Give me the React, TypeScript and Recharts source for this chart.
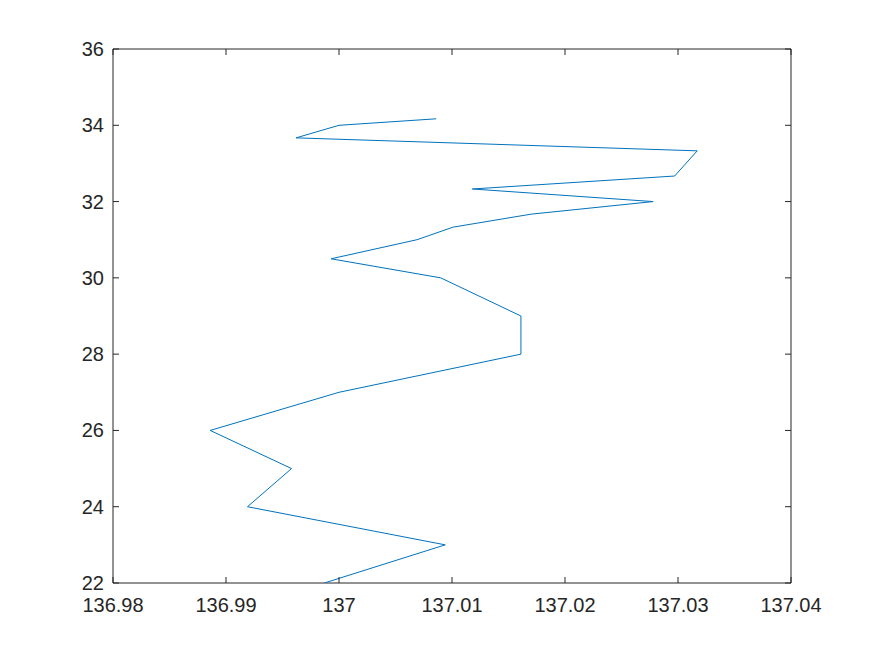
import React from 'react';
import { ScatterChart, Scatter, XAxis, YAxis } from 'recharts';

const depths = [22, 23, 24, 25, 26, 27, 28, 29, 30, 30.5, 31, 31.33, 31.67, 32, 32.33, 32.67, 33.33, 33.67, 34, 34.17];
const longitudes = [136.9987, 137.0094, 136.9919, 136.9958, 136.9886, 137.0, 137.0161, 137.0161, 137.009, 136.9993, 137.0069, 137.0101, 137.017, 137.0278, 137.0118, 137.0297, 137.0317, 136.9962, 137.0, 137.0086];
const xTicks = [136.98, 136.99, 137, 137.01, 137.02, 137.03, 137.04];
const yTicks = [22, 24, 26, 28, 30, 32, 34, 36];

const data = depths.map((d, i) => ({ x: longitudes[i], y: d }));

const AXIS = '#262626';
const FONT = '"Liberation Sans", Arial, Helvetica, sans-serif';
const TINY = 0.001;

const BottomTick = (props: any) => {
  const { x, y, payload } = props;
  return (
    <g>
      <line x1={x} x2={x} y1={y} y2={y - 6} stroke={AXIS} strokeWidth={1} />
      <text x={x} y={y + 29} textAnchor="middle" fill={AXIS} fontSize={20} fontFamily={FONT}>
        {String(payload.value)}
      </text>
    </g>
  );
};

const LeftTick = (props: any) => {
  const { x, y, payload } = props;
  return (
    <g>
      <line x1={x} x2={x + 6} y1={y} y2={y} stroke={AXIS} strokeWidth={1} />
      <text x={x - 9} y={y + 7} textAnchor="end" fill={AXIS} fontSize={20} fontFamily={FONT}>
        {String(payload.value)}
      </text>
    </g>
  );
};

const TopTick = (props: any) => {
  const { x, y } = props;
  return <line x1={x} x2={x} y1={y} y2={y + 6} stroke={AXIS} strokeWidth={1} />;
};

const RightTick = (props: any) => {
  const { x, y } = props;
  return <line x1={x} x2={x - 6} y1={y} y2={y} stroke={AXIS} strokeWidth={1} />;
};

const NoShape = () => <g />;

export default function App() {
  return (
    <div style={{ position: 'absolute', left: 0, top: 0, width: 875, height: 656, background: '#fff' }}>
      <ScatterChart width={875} height={656} margin={{ top: 48, right: 83, bottom: 33, left: 0 }}>
        <XAxis
          xAxisId="bottom"
          type="number"
          dataKey="x"
          domain={[136.98, 137.04]}
          ticks={xTicks}
          allowDataOverflow
          interval={0}
          height={40}
          tickSize={TINY}
          tickMargin={TINY}
          tickLine={false}
          axisLine={{ stroke: AXIS, strokeWidth: 1 }}
          tick={BottomTick}
        />
        <XAxis
          xAxisId="top"
          orientation="top"
          type="number"
          dataKey="x"
          domain={[136.98, 137.04]}
          ticks={xTicks}
          allowDataOverflow
          interval={0}
          height={1}
          tickSize={TINY}
          tickMargin={TINY}
          tickLine={false}
          axisLine={{ stroke: AXIS, strokeWidth: 1 }}
          tick={TopTick}
        />
        <YAxis
          yAxisId="left"
          type="number"
          dataKey="y"
          domain={[22, 36]}
          ticks={yTicks}
          allowDataOverflow
          interval={0}
          width={113}
          tickSize={TINY}
          tickMargin={TINY}
          tickLine={false}
          axisLine={{ stroke: AXIS, strokeWidth: 1 }}
          tick={LeftTick}
        />
        <YAxis
          yAxisId="right"
          orientation="right"
          type="number"
          dataKey="y"
          domain={[22, 36]}
          ticks={yTicks}
          allowDataOverflow
          interval={0}
          width={1}
          tickSize={TINY}
          tickMargin={TINY}
          tickLine={false}
          axisLine={{ stroke: AXIS, strokeWidth: 1 }}
          tick={RightTick}
        />
        <Scatter
          xAxisId="bottom"
          yAxisId="left"
          data={data}
          line={{ stroke: '#0072BD', strokeWidth: 1 }}
          lineType="joint"
          shape={NoShape}
          isAnimationActive={false}
        />
        <Scatter
          xAxisId="top"
          yAxisId="right"
          data={data}
          shape={NoShape}
          isAnimationActive={false}
        />
      </ScatterChart>
    </div>
  );
}
